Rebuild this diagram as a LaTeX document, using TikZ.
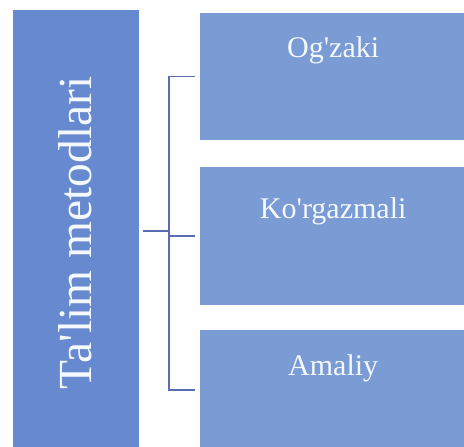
\documentclass[tikz,border=0pt]{standalone}
\usepackage{fontspec}
\setmainfont{Liberation Serif}
\usetikzlibrary{calc}
\definecolor{leftblue}{HTML}{6689CF}
\definecolor{rightblue}{HTML}{7A9BD3}
\definecolor{brcol}{HTML}{5A6CB0}
\definecolor{txtcol}{HTML}{F4F8FF}
\tikzset{
  x=1pt, y=1pt,
  box/.style={draw=none, inner sep=0pt, anchor=north west},
  lbox/.style={box, fill=leftblue, minimum width=126pt, minimum height=442pt},
  rbox/.style={box, fill=rightblue, minimum width=266pt},
  rtxt/.style={text=txtcol, font=\fontsize{30}{36}\selectfont, inner sep=0pt},
  ltxt/.style={text=txtcol, font=\fontsize{47.5}{56}\selectfont, inner sep=0pt, rotate=90},
  br/.style={draw=brcol, line width=1.5pt}
}
\begin{document}
\begin{tikzpicture}
\useasboundingbox (0,0) rectangle (464,-447);
\fill[white] (0,0) rectangle (464,-447);
\node[lbox] (L) at (13,-10) {};
\node[ltxt] (Lt) at (75,-233) {Ta\textquotesingle lim metodlari};
\node[rbox, minimum height=127pt] (B1) at (200,-13) {};
\node[rbox, minimum height=138pt] (B2) at (200,-167) {};
\node[rbox, minimum height=120pt] (B3) at (200,-330) {};
\node[rtxt] (T1) at ($(B1.north)+(0,-37)$) {Og\textquotesingle zaki};
\node[rtxt] (T2) at ($(B2.north)+(0,-44)$) {Ko\textquotesingle rgazmali};
\node[rtxt] (T3) at ($(B3.north)+(0,-38)$) {Amaliy};
\coordinate (m) at (169,-232);
\draw[br] ($(B1.west)+(-5,0)$) -- (B1.west -| m) -- (B3.west -| m) -- ($(B3.west)+(-5,0)$);
\draw[br] ($(L.east)+(4,0)$) -- (L.east -| m);
\draw[br] (B2.west -| m) -- ($(B2.west)+(-5,0)$);
\end{tikzpicture}
\end{document}
